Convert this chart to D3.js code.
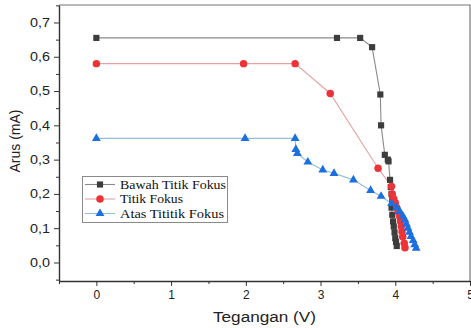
<!DOCTYPE html>
<html>
<head>
<meta charset="utf-8">
<script src="https://cdn.jsdelivr.net/npm/d3@7"></script>
<style>
  html, body { margin: 0; padding: 0; background: #fff; }
  svg { display: block; }
</style>
</head>
<body>
<svg id="chart" width="471" height="328"></svg>
<script>
// ---- data ----
const seriesNames = ["Bawah Titik Fokus", "Titik Fokus", "Atas Tititik Fokus"];

const bawahX = [0, 3.22, 3.53, 3.69, 3.80, 3.81, 3.86, 3.90, 3.91, 3.93, 3.94, 3.95, 3.96, 3.95, 3.96, 3.97, 3.98, 3.99, 4.00, 4.01, 4.02];
const bawahY = [0.655, 0.655, 0.655, 0.628, 0.49, 0.40, 0.314, 0.30, 0.295, 0.241, 0.22, 0.20, 0.183, 0.16, 0.139, 0.12, 0.105, 0.088, 0.071, 0.06, 0.048];

const titikX = [0, 1.97, 2.66, 3.13, 3.77, 3.95, 3.96, 3.98, 4.00, 4.02, 4.04, 4.06, 4.07, 4.08, 4.09, 4.10, 4.12, 4.13];
const titikY = [0.58, 0.58, 0.58, 0.493, 0.275, 0.222, 0.2, 0.185, 0.174, 0.16, 0.148, 0.134, 0.12, 0.105, 0.09, 0.075, 0.056, 0.043];

const atasX = [0, 1.99, 2.66, 2.67, 2.69, 2.83, 3.03, 3.18, 3.44, 3.67, 3.81, 3.95, 4.02, 4.06, 4.10, 4.13, 4.15, 4.17, 4.19, 4.21, 4.24, 4.26, 4.28];
const atasY = [0.362, 0.362, 0.362, 0.33, 0.318, 0.293, 0.27, 0.26, 0.241, 0.21, 0.193, 0.172, 0.16, 0.149, 0.136, 0.124, 0.112, 0.1, 0.088, 0.076, 0.064, 0.052, 0.042];

const xTicks = [0, 1, 2, 3, 4, 5];
const yTicks = [0, 0.1, 0.2, 0.3, 0.4, 0.5, 0.6, 0.7];
const xTitle = "Tegangan (V)";
const yTitle = "Arus (mA)";

// ---- layout ----
const svg = d3.select("#chart");
const L = 59, R = 470, T = 5, B = 281;
const x = d3.scaleLinear().domain([-0.5, 5.0]).range([L, R]);
const y = d3.scaleLinear().domain([-0.054, 0.751]).range([B, T]);

// frame (top & right)
svg.append("path")
  .attr("d", `M${L},${T}H${R}V${B}`)
  .attr("fill", "none").attr("stroke", "#777").attr("stroke-width", 1.2);

// minor ticks
const xMinor = d3.range(-0.5, 5.01, 0.5).filter(v => Math.abs(v - Math.round(v)) > 0.01);
const yMinor = d3.range(-0.05, 0.751, 0.05).filter(v => Math.abs(v * 10 - Math.round(v * 10)) > 0.01);

const xAxis = svg.append("g").attr("transform", `translate(0,${B})`)
  .call(d3.axisBottom(x).tickValues(xTicks).tickFormat(d3.format("d")).tickSize(5).tickSizeOuter(0));
svg.append("g").attr("transform", `translate(0,${B})`)
  .call(d3.axisBottom(x).tickValues(xMinor).tickFormat("").tickSize(3).tickSizeOuter(0))
  .select(".domain").remove();

const yAxis = svg.append("g").attr("transform", `translate(${L},0)`)
  .call(d3.axisLeft(y).tickValues(yTicks).tickFormat(d => d3.format(".1f")(d).replace(".", ",")).tickSize(5).tickSizeOuter(0));
svg.append("g").attr("transform", `translate(${L},0)`)
  .call(d3.axisLeft(y).tickValues(yMinor).tickFormat("").tickSize(3).tickSizeOuter(0))
  .select(".domain").remove();

svg.selectAll(".domain").attr("stroke", "#333").attr("stroke-width", 1.4);
svg.selectAll(".tick line").attr("stroke", "#333").attr("stroke-width", 1);

xAxis.selectAll("text")
  .attr("font-family", "Liberation Sans, Arial, sans-serif")
  .attr("font-size", 12).attr("fill", "#222").attr("dy", "0.71em").attr("y", 9);
yAxis.selectAll("text")
  .attr("font-family", "Liberation Sans, Arial, sans-serif")
  .attr("font-size", 12).attr("fill", "#222").attr("x", -9)
  .attr("textLength", 20).attr("lengthAdjust", "spacingAndGlyphs");

// axis titles
svg.append("text")
  .attr("x", (L + R) / 2).attr("y", 322)
  .attr("text-anchor", "middle")
  .attr("font-family", "Liberation Sans, Arial, sans-serif")
  .attr("font-size", 14).attr("fill", "#222")
  .attr("textLength", 103).attr("lengthAdjust", "spacingAndGlyphs")
  .text(xTitle);
svg.append("text")
  .attr("transform", `translate(20,${141}) rotate(-90)`)
  .attr("text-anchor", "middle")
  .attr("font-family", "Liberation Sans, Arial, sans-serif")
  .attr("font-size", 14).attr("fill", "#222")
  .text(yTitle);

// ---- series ----
const series = [
  { name: seriesNames[0], xs: bawahX, ys: bawahY, line: "#8a8a8a", fill: "#3d3d3d", sym: d3.symbolSquare, size: 38 },
  { name: seriesNames[1], xs: titikX, ys: titikY, line: "#e3a3a3", fill: "#ee3338", sym: d3.symbolCircle, size: 44 },
  { name: seriesNames[2], xs: atasX, ys: atasY, line: "#92bfd6", fill: "#1b6fe0", sym: d3.symbolTriangle, size: 34 }
];

const lineGen = d3.line().x(d => x(d[0])).y(d => y(d[1]));

series.forEach(s => {
  const pts = s.xs.map((v, i) => [v, s.ys[i]]);
  svg.append("path").datum(pts)
    .attr("d", lineGen).attr("fill", "none")
    .attr("stroke", s.line).attr("stroke-width", 1.1);
});
series.forEach(s => {
  const pts = s.xs.map((v, i) => [v, s.ys[i]]);
  svg.append("g").selectAll("path").data(pts).join("path")
    .attr("transform", d => `translate(${x(d[0])},${y(d[1])})`)
    .attr("d", d3.symbol().type(s.sym).size(s.size))
    .attr("fill", s.fill);
});

// ---- legend ----
const lg = svg.append("g");
lg.append("rect")
  .attr("x", 82.5).attr("y", 176.5).attr("width", 145).attr("height", 46)
  .attr("fill", "#fff").attr("stroke", "#8a8a8a").attr("stroke-width", 1);
series.forEach((s, i) => {
  const yy = 184.5 + i * 14.5;
  lg.append("line").attr("x1", 85).attr("x2", 115).attr("y1", yy).attr("y2", yy)
    .attr("stroke", s.line).attr("stroke-width", 1.1);
  lg.append("path").attr("transform", `translate(100,${yy})`)
    .attr("d", d3.symbol().type(s.sym).size(s.size)).attr("fill", s.fill);
  const t = lg.append("text").attr("x", 120).attr("y", yy).attr("dy", "0.35em")
    .attr("font-family", "Liberation Serif, Times New Roman, serif")
    .attr("font-size", 12.5).attr("fill", "#111")
    .text(s.name);
  const widths = [106, 63, 104];
  t.attr("textLength", widths[i]).attr("lengthAdjust", "spacingAndGlyphs");
});
</script>
</body>
</html>
